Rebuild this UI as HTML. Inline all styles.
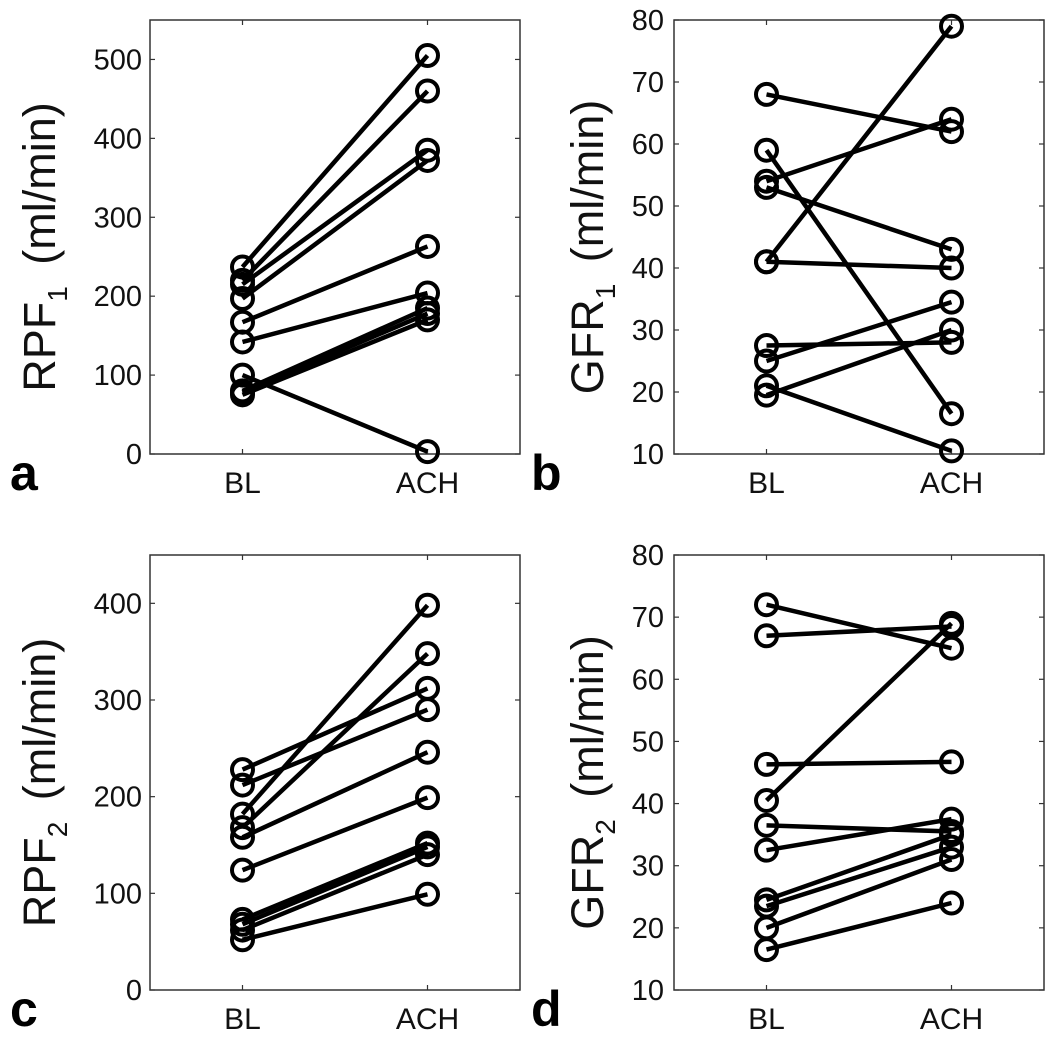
<!DOCTYPE html>
<html><head><meta charset="utf-8"><style>
html,body{margin:0;padding:0;background:#fff;}
svg{display:block;font-family:"Liberation Sans",Arial,sans-serif;}
</style></head><body>
<svg id="fig" width="1050" height="1041" viewBox="0 0 1050 1041" xmlns="http://www.w3.org/2000/svg"></svg>
<script>
const categories = ["BL","ACH"];
const aBL  = [237,220,215,197,167,142,80,78,75,100];
const aACH = [505,460,385,372,263,204,185,178,170,3];
const bBL  = [68,59,54,53,41,41,27.5,25,19.5,21];
const bACH = [62,16.5,64,43,79,40,28,34.5,30,10.5];
const cBL  = [228,212,182,168,158,124,73,68,62,52];
const cACH = [312,290,398,348,246,199,152,148,140,99];
const dBL  = [72,67,46.3,40.5,36.5,32.5,24.5,23.5,20,16.5];
const dACH = [65,68.5,46.7,69,35.5,37.5,35,33,31,24];
const aTicks = [0,100,200,300,400,500];
const bTicks = [10,20,30,40,50,60,70,80];
const cTicks = [0,100,200,300,400];
const dTicks = bTicks;

const NS = "http://www.w3.org/2000/svg";
const svg = document.getElementById("fig");
function mk(tag, attrs, parent){const e=document.createElementNS(NS,tag);for(const k in attrs)e.setAttribute(k,attrs[k]);(parent||svg).appendChild(e);return e;}

const panels = [
 {id:"a",x0:150,x1:520,y0:20,y1:454,ymin:0,ymax:550,ticks:aTicks,bl:aBL,ach:aACH,lab:"RPF",sub:"1",labX:55,tickR:142},
 {id:"b",x0:674,x1:1044,y0:20,y1:454,ymin:10,ymax:80,ticks:bTicks,bl:bBL,ach:bACH,lab:"GFR",sub:"1",labX:603,tickR:664},
 {id:"c",x0:150,x1:520,y0:555,y1:990,ymin:0,ymax:450,ticks:cTicks,bl:cBL,ach:cACH,lab:"RPF",sub:"2",labX:55,tickR:142},
 {id:"d",x0:674,x1:1044,y0:555,y1:990,ymin:10,ymax:80,ticks:dTicks,bl:dBL,ach:dACH,lab:"GFR",sub:"2",labX:603,tickR:664}
];

panels.forEach(p=>{
  const g = mk("g",{});
  
  
  const W=p.x1-p.x0;
  const xs = i => p.x0 + W*(0.25+0.5*i);
  const ys = v => p.y1 - (v-p.ymin)/(p.ymax-p.ymin)*(p.y1-p.y0);
  const box = mk("rect",{x:p.x0,y:p.y0,width:W,height:p.y1-p.y0,fill:"none",stroke:"#333","stroke-width":1.5},g);
  
  
  p.ticks.forEach(t=>{
    const y=ys(t);
    mk("line",{x1:p.x0,x2:p.x0+5,y1:y,y2:y,stroke:"#333","stroke-width":1.2},g);
    mk("line",{x1:p.x1,x2:p.x1-5,y1:y,y2:y,stroke:"#333","stroke-width":1.2},g);
    const tx=mk("text",{x:p.tickR,y:y+10,"text-anchor":"end","font-size":29,fill:"#111"},g);
    tx.textContent=t;
    
    
  });
  categories.forEach((c,i)=>{
    const x=xs(i);
    mk("line",{x1:x,x2:x,y1:p.y1,y2:p.y1-5,stroke:"#333","stroke-width":1.2},g);
    mk("line",{x1:x,x2:x,y1:p.y0,y2:p.y0+5,stroke:"#333","stroke-width":1.2},g);
    const tx=mk("text",{x:x,y:p.y1+39,"text-anchor":"middle","font-size":30,fill:"#111"},g);
    tx.textContent=c;
    
    
  });
  p.bl.forEach((v,i)=>{
    const l=mk("line",{x1:xs(0),y1:ys(v),x2:xs(1),y2:ys(p.ach[i]),stroke:"#000","stroke-width":4.5},g);
    
    
  });
  p.bl.forEach((v,i)=>{
    [[0,v],[1,p.ach[i]]].forEach(([k,val])=>{
      const c=mk("circle",{cx:xs(k),cy:ys(val),r:10.5,fill:"none",stroke:"#000","stroke-width":4},g);
      
      
    });
  });
  const cy=(p.y0+p.y1)/2+10;
  const lt=mk("text",{x:p.labX,y:cy,"text-anchor":"middle","font-size":45,fill:"#111",transform:`rotate(-90 ${p.labX} ${cy})`},g);
  lt.innerHTML=p.lab+'<tspan font-size="28" dy="12">'+p.sub+'</tspan><tspan dy="-12">\u2009 (ml/min)</tspan>';
  
  
  const pl=mk("text",{x:p.x0-140+(p.id==="b"||p.id==="d"?-3:0),y:p.y1+36,"font-size":50,"font-weight":"bold",fill:"#000"},g);
  pl.textContent=p.id;
  
  
});
</script>
</body></html>
